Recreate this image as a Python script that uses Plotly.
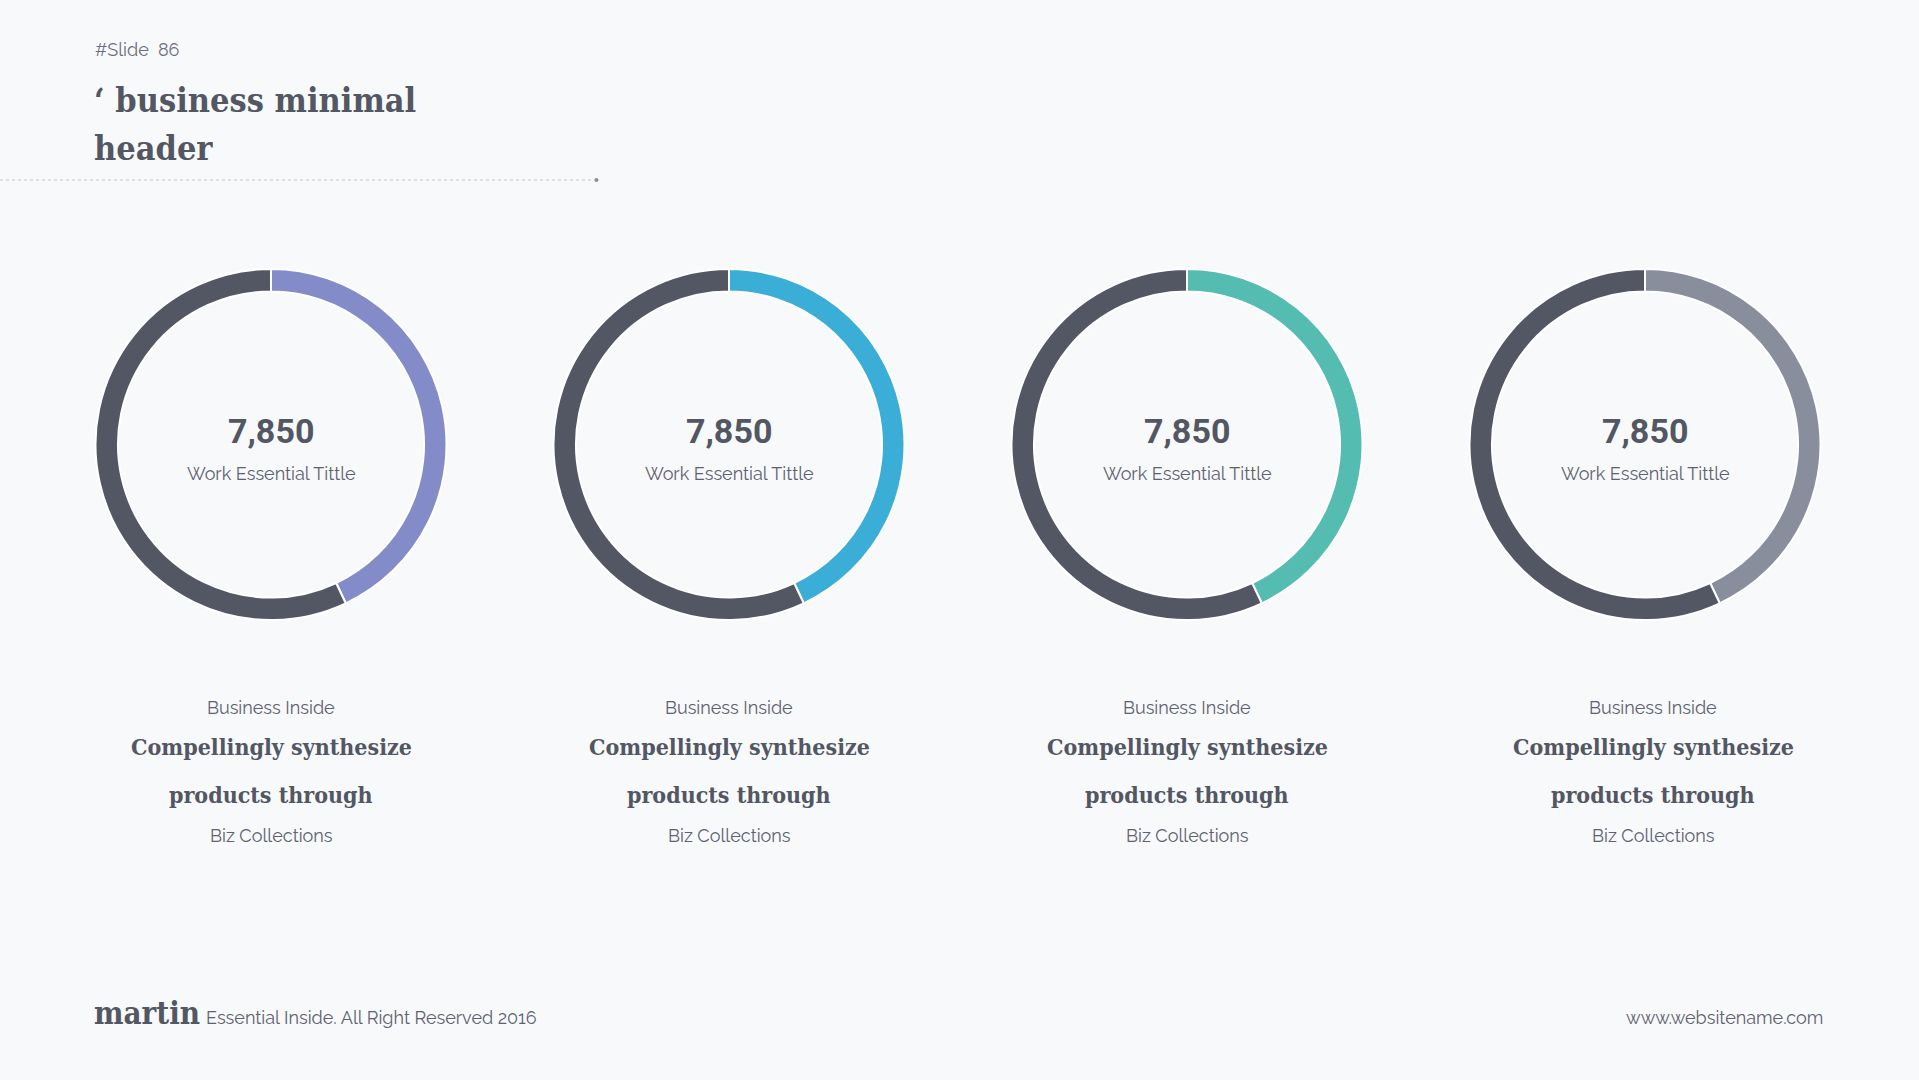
import plotly.graph_objects as go

W, H = 1919, 1080

# ---- data ----
kpi_labels = ["Progress", "Remaining"]
progress_values = [43, 43, 43, 43]
remaining_values = [57, 57, 57, 57]
center_numbers = ["7,850", "7,850", "7,850", "7,850"]
center_captions = ["Work Essential Tittle"] * 4
accent_colors = ["#838BC8", "#3AAED6", "#55BCB2", "#898E9C"]
card_kickers = ["Business Inside"] * 4
card_headlines_1 = ["Compellingly synthesize"] * 4
card_headlines_2 = ["products through"] * 4
card_footers = ["Biz Collections"] * 4

# ---- layout constants (pixels) ----
donut_cx = [271, 729, 1187, 1645]
text_cx = [271, 729, 1187, 1653]
donut_cy = 444.5
donut_r = 175.5
DARK = "#525763"
BG = "#F8F9FB"
SANS = "Raleway, Lato, 'Open Sans', sans-serif"
SLAB = "'Roboto Slab', 'DejaVu Serif Condensed', 'DejaVu Serif', serif"


def px(x):
    return x / W


def py(y):
    return 1 - y / H


fig = go.Figure()

for i in range(4):
    fig.add_trace(go.Pie(
        labels=kpi_labels,
        values=[progress_values[i], remaining_values[i]],
        hole=0.872,
        sort=False,
        direction="clockwise",
        rotation=0,
        textinfo="none",
        hoverinfo="label+value",
        showlegend=False,
        marker=dict(colors=[accent_colors[i], DARK],
                    line=dict(color="#FFFFFF", width=2)),
        domain=dict(x=[px(donut_cx[i] - donut_r), px(donut_cx[i] + donut_r)],
                    y=[py(donut_cy + donut_r), py(donut_cy - donut_r)]),
    ))

annotations = []


def add_text(text, x, y, size, color=DARK, family=SANS, xanchor="center"):
    annotations.append(dict(
        text=text, x=px(x), y=py(y), xref="paper", yref="paper",
        xanchor=xanchor, yanchor="middle", showarrow=False,
        font=dict(size=size, color=color, family=family),
    ))


for i in range(4):
    add_text("<b>" + center_numbers[i] + "</b>", donut_cx[i], 431, 34, DARK, "Roboto, sans-serif")
    add_text(center_captions[i], donut_cx[i], 473.5, 18, "#5E6270")
    add_text(card_kickers[i], text_cx[i], 707.5, 18, "#5E6270")
    add_text("<b>" + card_headlines_1[i] + "</b>", text_cx[i], 746, 23, DARK, SLAB)
    add_text("<b>" + card_headlines_2[i] + "</b>", text_cx[i], 794, 23, DARK, SLAB)
    add_text(card_footers[i], text_cx[i], 835, 18, "#5E6270")

# header
add_text("#Slide  86", 93, 49, 18, "#6B6F7B", xanchor="left")
add_text("<b>‘ business minimal</b>", 92, 100, 34, DARK, SLAB, xanchor="left")
add_text("<b>header</b>", 92, 148, 34, DARK, SLAB, xanchor="left")

# footer
add_text("<b>martin</b>", 92, 1013, 31, DARK, SLAB, xanchor="left")
add_text("Essential Inside. All Right Reserved 2016", 204, 1018, 18, "#5E6270", xanchor="left")
add_text("www.websitename.com", 1825, 1018, 18, "#5E6270", xanchor="right")

shapes = [
    dict(type="line", xref="paper", yref="paper", x0=0, x1=px(596), y0=py(180), y1=py(180),
         line=dict(color="#C5C8CF", width=1, dash="dot")),
    dict(type="circle", xref="paper", yref="paper",
         x0=px(594.5), x1=px(598.5), y0=py(182), y1=py(178),
         fillcolor="#8A8E99", line=dict(width=0)),
]

fig.update_layout(
    width=W, height=H,
    margin=dict(l=0, r=0, t=0, b=0),
    paper_bgcolor=BG, plot_bgcolor=BG,
    annotations=annotations,
    shapes=shapes,
)

fig.write_html("out.html")
